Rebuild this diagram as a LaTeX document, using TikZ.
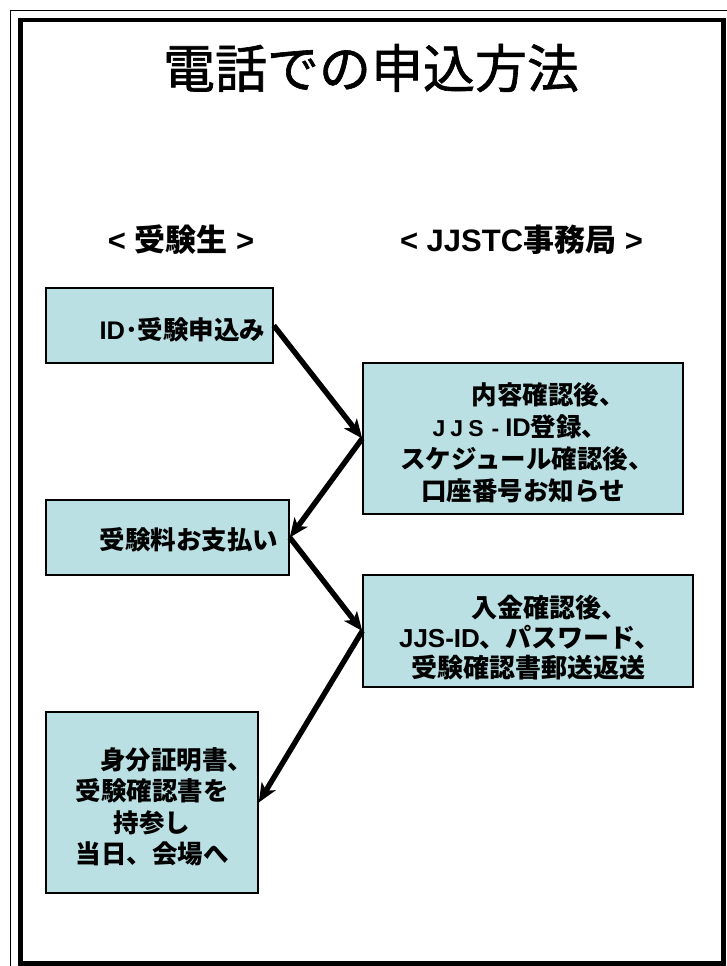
\documentclass[tikz,border=0pt]{standalone}
\usepackage{fontspec}
\newfontfamily\jp{Noto Sans CJK JP}
\newfontfamily\jpt[FakeBold=1.2]{Noto Sans CJK JP}
\newfontfamily\la{Liberation Sans}
\usetikzlibrary{arrows.meta}
\definecolor{boxfill}{HTML}{BBE0E3}
\newcommand{\lat}[1]{{\la\bfseries #1}}
\tikzset{
  x=1pt, y=-1pt,
  box/.style={draw=black, line width=1.5pt, fill=boxfill, align=center, inner sep=0pt,
    font=\jp\bfseries\fontsize{25.5}{32}\selectfont},
  head/.style={font=\jp\bfseries\fontsize{31}{31}\selectfont, inner sep=0pt},
  arr/.style={line width=5.4pt, -{Stealth[length=19pt,width=16pt,inset=5pt]}}
}
\begin{document}
\begin{tikzpicture}
\useasboundingbox (0,0) rectangle (726,966);
\fill[white] (0,0) rectangle (726,966);
% frame
\draw[line width=1.3pt] (10.8,10.8) rectangle (745,985);
\draw[line width=4.8pt] (20.5,20) rectangle (723.5,963.5);
% title
\node[inner sep=0pt, font=\jpt\fontsize{52}{52}\selectfont] (title) at (371,68) {電話での申込方法};
% headers
\node[head] (h1) at (181,240) {\lat{< }受験生\lat{ >}};
\node[head] (h2) at (521.5,240) {\lat{< JJSTC}事務局\lat{ >}};
% boxes
\node[box, minimum width=227pt, minimum height=75pt] (b1) at (159.5,325.5)
  {\rule{0pt}{30pt}\hspace*{46pt}\lat{ID}･受験申込み};
\node[box, minimum width=320pt, minimum height=151pt] (b2) at (523,438.5)
  {\rule{0pt}{30pt}\hspace*{50pt}内容確認後、\\
   \hspace*{-6pt}{\la\fontsize{23}{23}\selectfont J\kern5pt J\kern5pt S\kern8pt -\kern6pt}\lat{ID}登録、\\
   \hspace*{8pt}スケジュール確認後、\\
   口座番号お知らせ};
\node[box, minimum width=243pt, minimum height=75pt] (b3) at (167.5,537.5)
  {\rule{0pt}{26pt}\hspace*{43pt}受験料お支払い};
\node[box, minimum width=330pt, minimum height=112pt,
  font=\jp\bfseries\fontsize{26}{30}\selectfont] (b4) at (528,631)
  {\rule{0pt}{35pt}\hspace*{42pt}入金確認後、\\
   \hspace*{4pt}\lat{JJS-ID}、パスワード、\\
   受験確認書郵送返送};
\node[box, minimum width=212pt, minimum height=181pt,
  font=\jp\bfseries\fontsize{25.5}{31.5}\selectfont] (b5) at (152,802.5)
  {\rule{0pt}{31pt}\hspace*{49pt}身分証明書、\\
   受験確認書を\\
   持参し\\
   当日、会場へ};
% arrows
\draw[arr] (b1.east) -- (b2.west);
\draw[arr] (b2.west) -- (b3.east);
\draw[arr] (b3.east) -- (b4.west);
\draw[arr] (b4.west) -- (b5.east);
\end{tikzpicture}
\end{document}
